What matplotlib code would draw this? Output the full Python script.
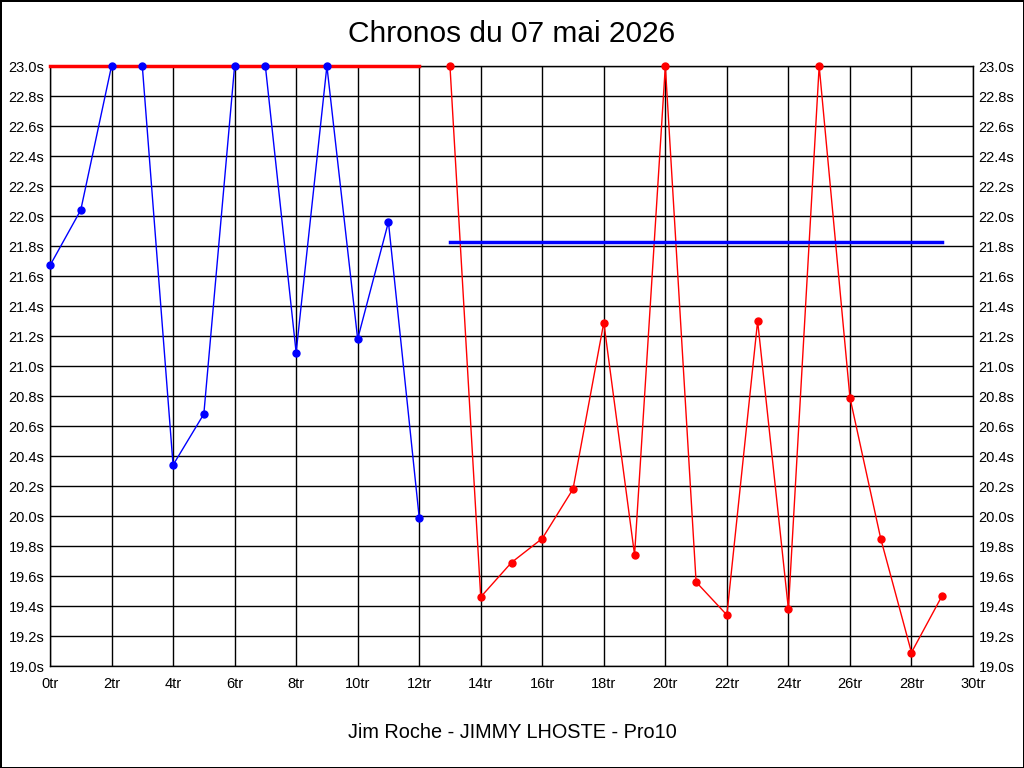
import matplotlib
matplotlib.use("Agg")
import matplotlib.pyplot as plt

plt.rcParams['font.family'] = ['Liberation Sans', 'DejaVu Sans']

# Tours et chronos (secondes)
tours_bleu = [0, 1, 2, 3, 4, 5, 6, 7, 8, 9, 10, 11, 12]
chronos_bleu = [21.67, 22.04, 23.0, 23.0, 20.34, 20.68, 23.0, 23.0, 21.09, 23.0, 21.18, 21.96, 19.99]

tours_rouge = [13, 14, 15, 16, 17, 18, 19, 20, 21, 22, 23, 24, 25, 26, 27, 28, 29]
chronos_rouge = [23.0, 19.46, 19.69, 19.85, 20.18, 21.29, 19.74, 23.0, 19.56, 19.34,
                 21.30, 19.38, 23.0, 20.79, 19.85, 19.09, 19.47]

# Moyennes affichées
moy_rouge = 23.0   # ligne rouge sur tours 0-12
moy_bleu = 21.83   # ligne bleue sur tours 13-29

xticks = list(range(0, 31, 2))
yticks = [19.0 + 0.2 * i for i in range(21)]

fig = plt.figure(figsize=(10.24, 7.68), dpi=100)
fig.patch.set_facecolor("white")
fig.patch.set_edgecolor("black")
fig.patch.set_linewidth(2)

ax = fig.add_axes([50 / 1024, 102 / 768, 923 / 1024, 600 / 768])

# lignes des séries
ax.plot(tours_bleu, chronos_bleu, color="blue", lw=1, zorder=2.6, clip_on=False)
ax.plot(tours_rouge, chronos_rouge, color="red", lw=1, zorder=2.6, clip_on=False)
# moyennes
ax.plot([tours_bleu[0], tours_bleu[-1]], [moy_rouge, moy_rouge], color="red", lw=2.5, zorder=2.8, clip_on=False)
ax.plot([tours_rouge[0], tours_rouge[-1]], [moy_bleu, moy_bleu], color="blue", lw=2.5, zorder=2.8)
# points
ax.plot(tours_bleu, chronos_bleu, ls="none", color="blue", marker="o", ms=5, zorder=3, clip_on=False)
ax.plot(tours_rouge, chronos_rouge, ls="none", color="red", marker="o", ms=5, zorder=3, clip_on=False)

ax.set_xlim(0, 30)
ax.set_ylim(19.0, 23.0)
ax.set_xticks(xticks)
ax.set_xticklabels([f"{t}tr" for t in xticks])
ax.set_yticks(yticks)
ax.set_yticklabels([f"{v:.1f}s" for v in yticks])
ax.tick_params(axis="both", length=0, labelsize=10.5)
ax.tick_params(axis="x", pad=8)
ax.tick_params(axis="y", pad=4, right=True, labelright=True)
ax.grid(True, color="black", lw=1)
for s in ax.spines.values():
    s.set_linewidth(1)

fig.text(0.5, 1 - 34 / 768, "Chronos du 07 mai 2026", ha="center", va="center", fontsize=21.5)
fig.text(0.5, 1 - 733 / 768, "Jim Roche - JIMMY LHOSTE - Pro10", ha="center", va="center", fontsize=14.3)

fig.savefig("out.png", dpi=100, facecolor=fig.get_facecolor(), edgecolor=fig.get_edgecolor())
